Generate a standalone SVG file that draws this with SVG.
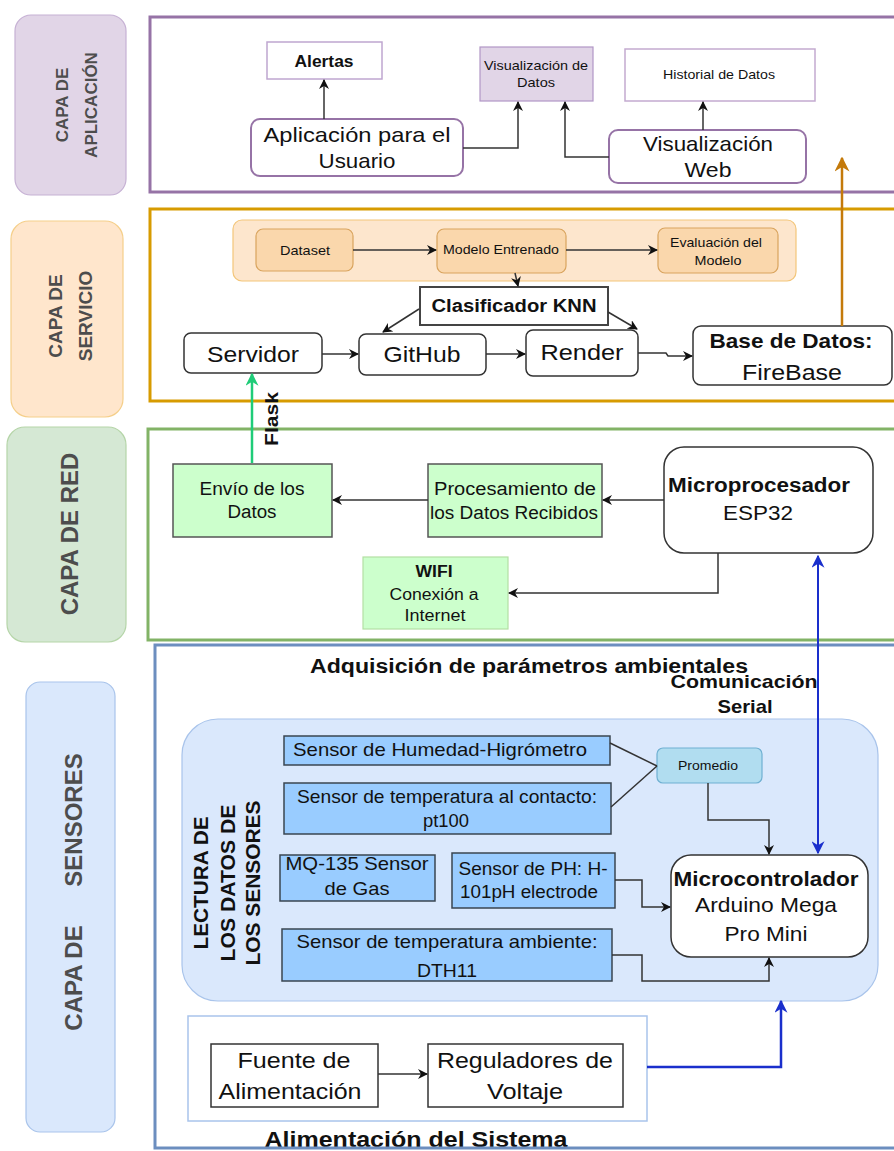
<svg xmlns="http://www.w3.org/2000/svg" width="894" height="1151" viewBox="0 0 894 1151">
<style>
text{font-family:"Liberation Sans",Arial,sans-serif;fill:#111;text-anchor:middle}
.b{font-weight:bold}
.lbl{font-weight:bold;fill:#4d4d4d}
.cn{fill:none;stroke:#333;stroke-width:1.5}
.box{fill:#fff;stroke:#333;stroke-width:1.5}
.sen{fill:#99ccff;stroke:#3a4550;stroke-width:1.5}
.grn{fill:#ccffcc;stroke:#555;stroke-width:1.5}
.sub{fill:#fad7ac;stroke:#d9a45e;stroke-width:1.2}
</style>
<defs>
<marker id="a" viewBox="0 0 10 10" refX="9" refY="5" markerWidth="10" markerHeight="10" markerUnits="userSpaceOnUse" orient="auto"><path d="M0,0 L10,5 L0,10 L3,5 z" fill="#111"/></marker>
<marker id="ag" viewBox="0 0 10 10" refX="9" refY="5" markerWidth="13" markerHeight="13" markerUnits="userSpaceOnUse" orient="auto"><path d="M0,0 L10,5 L0,10 L3,5 z" fill="#1fcc78"/></marker>
<marker id="ao" viewBox="0 0 10 10" refX="9" refY="5" markerWidth="15" markerHeight="15" markerUnits="userSpaceOnUse" orient="auto"><path d="M0,0 L10,5 L0,10 L3,5 z" fill="#c47a0a"/></marker>
<marker id="ab" viewBox="0 0 10 10" refX="9" refY="5" markerWidth="13" markerHeight="13" markerUnits="userSpaceOnUse" orient="auto-start-reverse"><path d="M0,0 L10,5 L0,10 L3,5 z" fill="#1a2fcc"/></marker>
</defs>
<rect x="0" y="0" width="894" height="1151" fill="#fff"/>

<g id="titles">
<text class="b" x="529" y="673" font-size="20" textLength="438" lengthAdjust="spacingAndGlyphs">Adquisición de parámetros ambientales</text>
<text class="b" x="416" y="1147" font-size="22" textLength="303" lengthAdjust="spacingAndGlyphs">Alimentación del Sistema</text>
<text class="b" x="744" y="688" font-size="19" textLength="147" lengthAdjust="spacingAndGlyphs">Comunicación</text>
<text class="b" x="745" y="713" font-size="19" textLength="55" lengthAdjust="spacingAndGlyphs">Serial</text>
</g>

<g id="layer-frames" fill="none" stroke-width="3">
<rect x="150" y="17" width="770" height="175" stroke="#9673a6"/>
<rect x="150" y="209" width="770" height="192" stroke="#d79b00"/>
<rect x="148" y="429" width="770" height="211" stroke="#82b366"/>
<rect x="155" y="645" width="770" height="503" stroke="#6c8ebf"/>
</g>

<g id="label-aplicacion">
<rect x="15" y="15" width="111" height="180" rx="16" fill="#e1d5e7" stroke="#c6b1d4" stroke-width="1.2"/>
<text class="lbl" font-size="17" transform="translate(68,105) rotate(-90)">CAPA DE</text>
<text class="lbl" font-size="17" transform="translate(97,105) rotate(-90)">APLICACIÓN</text>
</g>
<g id="label-servicio">
<rect x="11" y="221" width="112" height="196" rx="18" fill="#ffe6cc" stroke="#f5cf8a" stroke-width="1.2"/>
<text class="lbl" font-size="19" transform="translate(62,316) rotate(-90)">CAPA DE</text>
<text class="lbl" font-size="19" transform="translate(92,316) rotate(-90)">SERVICIO</text>
</g>
<g id="label-red">
<rect x="7" y="427" width="119" height="215" rx="18" fill="#d5e8d4" stroke="#b5d5a8" stroke-width="1.2"/>
<text class="lbl" font-size="24" transform="translate(78,534) rotate(-90)">CAPA DE RED</text>
</g>
<g id="label-sensores">
<rect x="26" y="682" width="89" height="450" rx="14" fill="#dae8fc" stroke="#a9c4eb" stroke-width="1.2"/>
<text class="lbl" font-size="24" transform="translate(82,820) rotate(-90)">SENSORES</text>
<text class="lbl" font-size="24" transform="translate(82,978) rotate(-90)">CAPA DE</text>
</g>

<g id="alertas">
<rect x="267" y="42" width="115" height="37" fill="#fff" stroke="#bfa6d0" stroke-width="1.5"/>
<text class="b" x="324" y="67" font-size="16" textLength="59" lengthAdjust="spacingAndGlyphs">Alertas</text>
</g>
<g id="aplicacion-usuario">
<rect x="251" y="119" width="212" height="57" rx="9" fill="#fff" stroke="#9673a6" stroke-width="2"/>
<text x="357" y="142" font-size="21" textLength="187" lengthAdjust="spacingAndGlyphs">Aplicación para el</text>
<text x="357" y="168" font-size="21" textLength="77" lengthAdjust="spacingAndGlyphs">Usuario</text>
</g>
<g id="visualizacion-datos">
<rect x="480" y="47" width="113" height="54" fill="#e1d5e7" stroke="#b197c6" stroke-width="1.2"/>
<text x="536" y="70" font-size="13" textLength="104" lengthAdjust="spacingAndGlyphs">Visualización de</text>
<text x="536" y="87" font-size="13" textLength="38" lengthAdjust="spacingAndGlyphs">Datos</text>
</g>
<g id="historial">
<rect x="625" y="49" width="190" height="52" fill="#fff" stroke="#c3aad0" stroke-width="1.5"/>
<text x="719" y="79" font-size="13" textLength="112" lengthAdjust="spacingAndGlyphs">Historial de Datos</text>
</g>
<g id="visualizacion-web">
<rect x="609" y="130" width="197" height="53" rx="9" fill="#fff" stroke="#9673a6" stroke-width="2"/>
<text x="708" y="151" font-size="21" textLength="130" lengthAdjust="spacingAndGlyphs">Visualización</text>
<text x="708" y="177" font-size="21" textLength="47" lengthAdjust="spacingAndGlyphs">Web</text>
</g>

<g id="modelo-container">
<rect x="233" y="220" width="563" height="61" rx="9" fill="#fde6cd" stroke="#f3c67a" stroke-width="1.2"/>
</g>
<g id="dataset">
<rect class="sub" x="256" y="229" width="97" height="42" rx="7"/>
<text x="305" y="255" font-size="13" textLength="50" lengthAdjust="spacingAndGlyphs">Dataset</text>
</g>
<g id="modelo-entrenado">
<rect class="sub" x="437" y="229" width="129" height="44" rx="7"/>
<text x="501" y="254" font-size="13" textLength="116" lengthAdjust="spacingAndGlyphs">Modelo Entrenado</text>
</g>
<g id="evaluacion">
<rect class="sub" x="658" y="228" width="120" height="45" rx="7"/>
<text x="716" y="247" font-size="13" textLength="92" lengthAdjust="spacingAndGlyphs">Evaluación del</text>
<text x="718" y="265" font-size="13" textLength="47" lengthAdjust="spacingAndGlyphs">Modelo</text>
</g>
<g id="clasificador">
<rect x="420" y="287" width="188" height="38" fill="#fff" stroke="#444" stroke-width="2"/>
<text class="b" x="514" y="312" font-size="18" textLength="165" lengthAdjust="spacingAndGlyphs">Clasificador KNN</text>
</g>
<g id="servidor">
<rect class="box" x="184" y="333" width="138" height="40" rx="7"/>
<text x="253" y="362" font-size="22" textLength="92" lengthAdjust="spacingAndGlyphs">Servidor</text>
</g>
<g id="github">
<rect class="box" x="359" y="334" width="127" height="41" rx="7"/>
<text x="422" y="362" font-size="22" textLength="77" lengthAdjust="spacingAndGlyphs">GitHub</text>
</g>
<g id="render">
<rect class="box" x="526" y="330" width="112" height="46" rx="7"/>
<text x="582" y="360" font-size="22" textLength="83" lengthAdjust="spacingAndGlyphs">Render</text>
</g>
<g id="firebase">
<rect class="box" x="693" y="326" width="199" height="59" rx="8"/>
<text class="b" x="791" y="348" font-size="21" textLength="163" lengthAdjust="spacingAndGlyphs">Base de Datos:</text>
<text x="792" y="380" font-size="22" textLength="100" lengthAdjust="spacingAndGlyphs">FireBase</text>
</g>

<g id="envio">
<rect class="grn" x="173" y="464" width="159" height="73"/>
<text x="252" y="495" font-size="18" textLength="105" lengthAdjust="spacingAndGlyphs">Envío de los</text>
<text x="252" y="518" font-size="18" textLength="49" lengthAdjust="spacingAndGlyphs">Datos</text>
</g>
<g id="procesamiento">
<rect class="grn" x="428" y="464" width="174" height="73"/>
<text x="515" y="495" font-size="18" textLength="162" lengthAdjust="spacingAndGlyphs">Procesamiento de</text>
<text x="514" y="519" font-size="18" textLength="168" lengthAdjust="spacingAndGlyphs">los Datos Recibidos</text>
</g>
<g id="esp32">
<rect class="box" x="664" y="447" width="209" height="106" rx="20"/>
<text class="b" x="759" y="492" font-size="20" textLength="182" lengthAdjust="spacingAndGlyphs">Microprocesador</text>
<text x="758" y="520" font-size="20" textLength="70" lengthAdjust="spacingAndGlyphs">ESP32</text>
</g>
<g id="wifi">
<rect x="363" y="557" width="145" height="72" fill="#ccffcc" stroke="#b3dfa3" stroke-width="1.2"/>
<text class="b" x="434" y="577" font-size="16" textLength="37" lengthAdjust="spacingAndGlyphs">WIFI</text>
<text x="434" y="600" font-size="16" textLength="89" lengthAdjust="spacingAndGlyphs">Conexión a</text>
<text x="435" y="621" font-size="16" textLength="61" lengthAdjust="spacingAndGlyphs">Internet</text>
</g>

<g id="lectura-container">
<rect x="182" y="719" width="696" height="282" rx="36" fill="#dae8fc" stroke="#a9c4eb" stroke-width="1.2"/>
<text class="b" font-size="20" transform="translate(208,883) rotate(-90)" textLength="133" lengthAdjust="spacingAndGlyphs">LECTURA DE</text>
<text class="b" font-size="20" transform="translate(235,883) rotate(-90)" textLength="157" lengthAdjust="spacingAndGlyphs">LOS DATOS DE</text>
<text class="b" font-size="20" transform="translate(260,883) rotate(-90)" textLength="165" lengthAdjust="spacingAndGlyphs">LOS SENSORES</text>
</g>
<g id="humedad">
<rect class="sen" x="284" y="736" width="326" height="29"/>
<text x="440" y="756" font-size="19" textLength="294" lengthAdjust="spacingAndGlyphs">Sensor de Humedad-Higrómetro</text>
</g>
<g id="pt100">
<rect class="sen" x="284" y="783" width="327" height="51"/>
<text x="447" y="803" font-size="19" textLength="300" lengthAdjust="spacingAndGlyphs">Sensor de temperatura al contacto:</text>
<text x="446" y="827" font-size="19" textLength="46" lengthAdjust="spacingAndGlyphs">pt100</text>
</g>
<g id="mq135">
<rect class="sen" x="280" y="855" width="155" height="46"/>
<text x="357" y="870" font-size="19" textLength="143" lengthAdjust="spacingAndGlyphs">MQ-135 Sensor</text>
<text x="357" y="895" font-size="19" textLength="65" lengthAdjust="spacingAndGlyphs">de Gas</text>
</g>
<g id="ph">
<rect class="sen" x="452" y="853" width="163" height="55"/>
<text x="533" y="875" font-size="18" textLength="149" lengthAdjust="spacingAndGlyphs">Sensor de PH: H-</text>
<text x="529" y="898" font-size="18" textLength="138" lengthAdjust="spacingAndGlyphs">101pH electrode</text>
</g>
<g id="dth11">
<rect class="sen" x="282" y="929" width="330" height="52"/>
<text x="447" y="948" font-size="19" textLength="301" lengthAdjust="spacingAndGlyphs">Sensor de temperatura ambiente:</text>
<text x="447" y="977" font-size="18" textLength="60" lengthAdjust="spacingAndGlyphs">DTH11</text>
</g>
<g id="promedio">
<rect x="657" y="748" width="105" height="35" rx="6" fill="#b1ddf0" stroke="#6fb0d2" stroke-width="1.2"/>
<text x="708" y="770" font-size="13" textLength="60" lengthAdjust="spacingAndGlyphs">Promedio</text>
</g>
<g id="microcontrolador">
<rect class="box" x="671" y="855" width="197" height="102" rx="20"/>
<text class="b" x="766" y="886" font-size="21" textLength="185" lengthAdjust="spacingAndGlyphs">Microcontrolador</text>
<text x="766" y="912" font-size="21" textLength="142" lengthAdjust="spacingAndGlyphs">Arduino Mega</text>
<text x="766" y="941" font-size="21" textLength="83" lengthAdjust="spacingAndGlyphs">Pro Mini</text>
</g>

<g id="alimentacion-container">
<rect x="188" y="1016" width="459" height="105" fill="#fff" stroke="#a9c4eb" stroke-width="1.5"/>
</g>
<g id="fuente">
<rect class="box" x="211" y="1044" width="167" height="63"/>
<text x="294" y="1068" font-size="22" textLength="113" lengthAdjust="spacingAndGlyphs">Fuente de</text>
<text x="290" y="1099" font-size="22" textLength="143" lengthAdjust="spacingAndGlyphs">Alimentación</text>
</g>
<g id="reguladores">
<rect class="box" x="428" y="1044" width="195" height="63"/>
<text x="525" y="1068" font-size="22" textLength="176" lengthAdjust="spacingAndGlyphs">Reguladores de</text>
<text x="525" y="1099" font-size="22" textLength="76" lengthAdjust="spacingAndGlyphs">Voltaje</text>
</g>

<g id="connectors">
<path class="cn" d="M324,119 V80" marker-end="url(#a)"/>
<path class="cn" d="M463,148 H518 V102" marker-end="url(#a)"/>
<path class="cn" d="M609,157 H565 V102" marker-end="url(#a)"/>
<path class="cn" d="M703,130 V102" marker-end="url(#a)"/>
<path d="M842,326 V158" fill="none" stroke="#c47a0a" stroke-width="2.5" marker-end="url(#ao)"/>
<path class="cn" d="M353,250 H436" marker-end="url(#a)"/>
<path class="cn" d="M566,250 H657" marker-end="url(#a)"/>
<path class="cn" d="M515,273 L518,286" marker-end="url(#a)"/>
<path class="cn" d="M419,309 L383,332" marker-end="url(#a)"/>
<path class="cn" d="M608,312 L637,329" marker-end="url(#a)"/>
<path class="cn" d="M322,354 H358" marker-end="url(#a)"/>
<path class="cn" d="M486,354 H525" marker-end="url(#a)"/>
<path class="cn" d="M638,353 H666 L668,356 H692" marker-end="url(#a)"/>
<path d="M252,463 V374" fill="none" stroke="#1fcc78" stroke-width="2.5" marker-end="url(#ag)"/>
<text class="b" font-size="19" transform="translate(278,419) rotate(-90)" textLength="54" lengthAdjust="spacingAndGlyphs">Flask</text>
<path class="cn" d="M664,500 H603" marker-end="url(#a)"/>
<path class="cn" d="M428,500 H333" marker-end="url(#a)"/>
<path class="cn" d="M718,553 V593 H509" marker-end="url(#a)"/>
<path d="M818,556 V853" fill="none" stroke="#1a2fcc" stroke-width="2" marker-start="url(#ab)" marker-end="url(#ab)"/>
<path class="cn" d="M610,743 L657,766"/>
<path class="cn" d="M611,807 L657,766"/>
<path class="cn" d="M708,783 V820 H769 V854" marker-end="url(#a)"/>
<path class="cn" d="M615,880 H642 V907 H670" marker-end="url(#a)"/>
<path class="cn" d="M612,955 H642 V981 H769 V958" marker-end="url(#a)"/>
<path class="cn" d="M378,1074 H427" marker-end="url(#a)"/>
<path d="M647,1067 H781 V1001" fill="none" stroke="#1a2fcc" stroke-width="2.5" marker-end="url(#ab)"/>
</g>
</svg>
